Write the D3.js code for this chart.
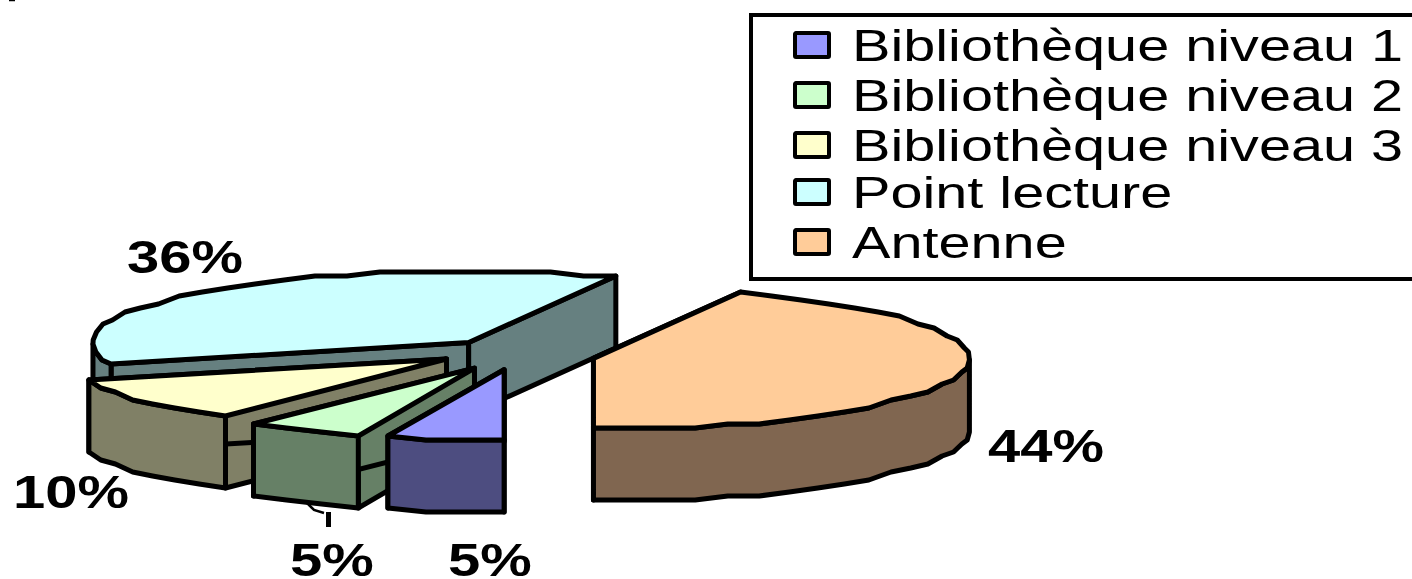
<!DOCTYPE html>
<html>
<head>
<meta charset="utf-8">
<script src="https://cdn.jsdelivr.net/npm/d3@7"></script>
<style>
  html, body { margin: 0; padding: 0; background: #fff; overflow: hidden; }
  text { font-family: "Liberation Sans", Arial, sans-serif; fill: #000; }
</style>
</head>
<body>
<script>
// chart data
const categories = ['Bibliothèque niveau 1', 'Bibliothèque niveau 2', 'Bibliothèque niveau 3', 'Point lecture', 'Antenne'];
const values = [5, 5, 10, 36.4, 43.6];
const topColors = ['#9999ff', '#ccffcc', '#ffffcc', '#ccffff', '#ffcc99'];
const wallColors = ['#4d4d80', '#668066', '#808066', '#668080', '#806650'];

// layout
const width = 1412, height = 579;
const cx = 519, cy = 355;        // pie centre
const rx = 376, ry = 71;         // ellipse of the tilted pie
const explodeX = 76, explodeY = 17;
const sliceNudge = [[-3, -2], [-10, -2], [-11, -6], [1, 0], [0, 0]];
const depth = 72;
const strokeW = 5;
const legendTops = [32, 82, 132, 179, 229];
const labelPos = [[448, 576], [290, 576], [13, 508], [127, 273], [988, 462]];

const svg = d3.select('body').append('svg')
  .attr('width', width)
  .attr('height', height)
  .style('display', 'block');

const pie = d3.pie().sort(null).startAngle(Math.PI).endAngle(3 * Math.PI);
const slices = pie(values);

const line = d3.line();

// the source was a low resolution metafile, rim points sit on a coarse grid
const snap = v => Math.round(v / 4) * 4;

// angle 0 is north, clockwise
function rimPoints(d, i, dy) {
  const mid = (d.startAngle + d.endAngle) / 2;
  const ox = cx + explodeX * Math.sin(mid) + sliceNudge[i][0];
  const oy = cy - explodeY * Math.cos(mid) + sliceNudge[i][1];
  const n = Math.max(3, Math.round((d.endAngle - d.startAngle) / 0.09));
  const angles = d3.range(n + 1).map(k => d.startAngle + (d.endAngle - d.startAngle) * k / n);
  return {
    apex: [ox, oy + dy],
    rim: angles.map(a => [ox + rx * Math.sin(a), snap(oy - ry * Math.cos(a)) + dy]),
    angles: angles
  };
}

// back to front
const drawOrder = [3, 4, 2, 1, 0];

drawOrder.forEach(i => {
  const d = slices[i];
  const top = rimPoints(d, i, 0);
  const bottom = rimPoints(d, i, depth);
  const g = svg.append('g')
    .attr('stroke', '#000')
    .attr('stroke-width', strokeW)
    .attr('stroke-linejoin', 'round');

  // the two cut faces
  [0, top.rim.length - 1].forEach(k => {
    g.append('path')
      .attr('d', line([top.apex, top.rim[k], bottom.rim[k], bottom.apex]) + 'Z')
      .attr('fill', wallColors[i]);
  });

  // outer wall, only where the rim faces the viewer
  const front = top.angles.map((a, k) => k).filter(k => Math.cos(top.angles[k]) <= 0.02);
  if (front.length > 1) {
    const upper = front.map(k => top.rim[k]);
    const lower = front.map(k => bottom.rim[k]).reverse();
    g.append('path')
      .attr('d', line(upper.concat(lower)) + 'Z')
      .attr('fill', wallColors[i]);
  }

  // top face
  g.append('path')
    .attr('d', line([top.apex].concat(top.rim)) + 'Z')
    .attr('fill', topColors[i]);
});

// leader line of the second label
svg.append('path')
  .attr('d', 'M307,503 L314,510 L324,513')
  .attr('fill', 'none')
  .attr('stroke', '#000')
  .attr('stroke-width', 2.5);
svg.append('path')
  .attr('d', 'M328.5,512 V527')
  .attr('stroke', '#000')
  .attr('stroke-width', 5);

// scrap of a line at the very top of the picture
svg.append('path')
  .attr('d', 'M9,0.5 H15')
  .attr('stroke', '#000')
  .attr('stroke-width', 1.5);

// percentage labels
svg.selectAll('text.pct')
  .data(values)
  .enter()
  .append('text')
  .attr('class', 'pct')
  .attr('transform', (d, i) => `translate(${labelPos[i][0]},${labelPos[i][1]}) scale(1.26,1)`)
  .style('font-size', '46px')
  .style('font-weight', 'bold')
  .text(d => Math.round(d) + '%');

// legend
svg.append('rect')
  .attr('x', 751)
  .attr('y', 15)
  .attr('width', 700)
  .attr('height', 264)
  .attr('fill', '#fff')
  .attr('stroke', '#000')
  .attr('stroke-width', 4);

const legend = svg.selectAll('g.legend')
  .data(categories)
  .enter()
  .append('g')
  .attr('class', 'legend')
  .attr('transform', (d, i) => `translate(0,${legendTops[i]})`);

legend.append('rect')
  .attr('x', 795)
  .attr('y', 1)
  .attr('width', 34)
  .attr('height', 24)
  .attr('rx', 1)
  .attr('fill', (d, i) => topColors[i])
  .attr('stroke', '#000')
  .attr('stroke-width', 4);

legend.append('text')
  .attr('transform', 'translate(852,29) scale(1.31,1)')
  .style('font-size', '44px')
  .text(d => d);
</script>
</body>
</html>
